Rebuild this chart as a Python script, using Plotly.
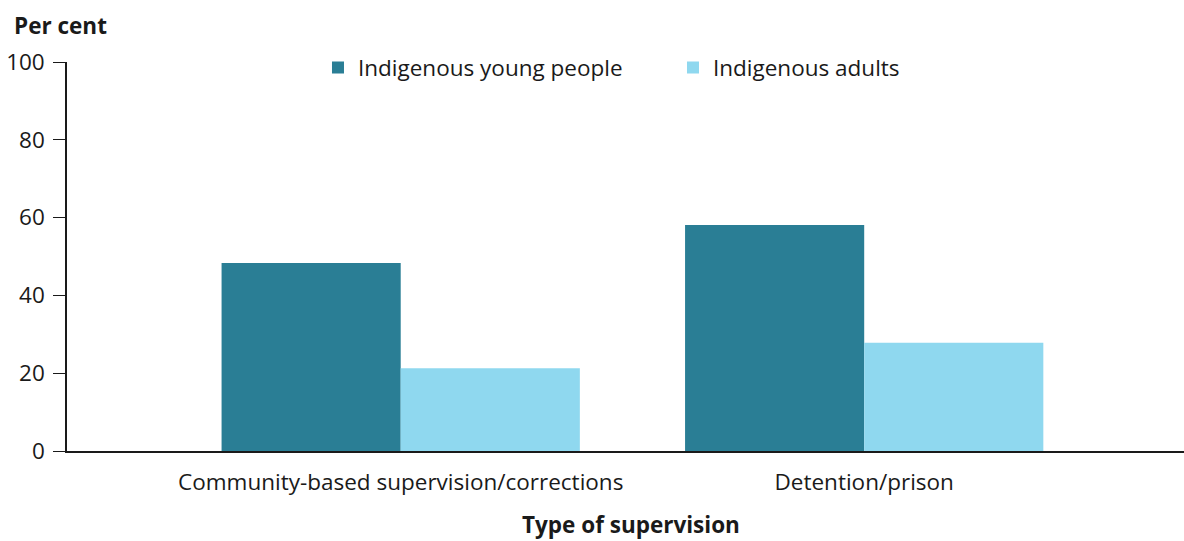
import plotly.graph_objects as go

categories = ["Community-based supervision/corrections", "Detention/prison"]
young_people = [48.3, 58.1]
adults = [21.3, 27.8]
y_ticks = [0, 20, 40, 60, 80, 100]

font_family = "Open Sans"
text_size = 22.5

fig = go.Figure()
fig.add_trace(go.Bar(name="Indigenous young people", x=categories, y=young_people,
                     marker_color="#2A7E95", marker_line_width=0))
fig.add_trace(go.Bar(name="Indigenous adults", x=categories, y=adults,
                     marker_color="#8FD8EF", marker_line_width=0))

fig.update_layout(
    width=1184, height=541,
    margin=dict(l=67, r=0, t=62, b=90),
    plot_bgcolor="white", paper_bgcolor="white",
    font=dict(family=font_family, size=text_size, color="#1a1a1a"),
    barmode="group", bargap=0.227, bargroupgap=0,
    showlegend=True,
    legend=dict(orientation="h", x=0.2247, xanchor="left", y=0.985, yanchor="middle",
                font=dict(size=text_size), traceorder="normal",
                entrywidth=310, bgcolor="rgba(0,0,0,0)"),
    xaxis=dict(range=[-0.72, 1.69], showline=True, linecolor="#1a1a1a", linewidth=1.5,
               ticks="", showgrid=False, tickfont=dict(size=text_size), ticklabelstandoff=10),
    yaxis=dict(range=[0, 100], tickvals=y_ticks, showline=True, linecolor="#1a1a1a",
               linewidth=1.5, ticks="outside", ticklen=12, tickcolor="#1a1a1a",
               showgrid=False, zeroline=False, tickfont=dict(size=text_size), ticklabelstandoff=4),
    annotations=[
        dict(text="<b>Per cent</b>", xref="paper", yref="paper", x=-0.049, y=1.095,
             xanchor="left", yanchor="middle", showarrow=False, font=dict(size=text_size)),
        # x axis title placed below the tick labels
        dict(text="<b>Type of supervision</b>", xref="paper", yref="paper", x=0.505, y=-0.19,
             xanchor="center", yanchor="middle", showarrow=False, font=dict(size=text_size)),
    ],
)

fig.write_html("out.html", config={"displayModeBar": False},
               post_script="document.body.style.margin='0';")
